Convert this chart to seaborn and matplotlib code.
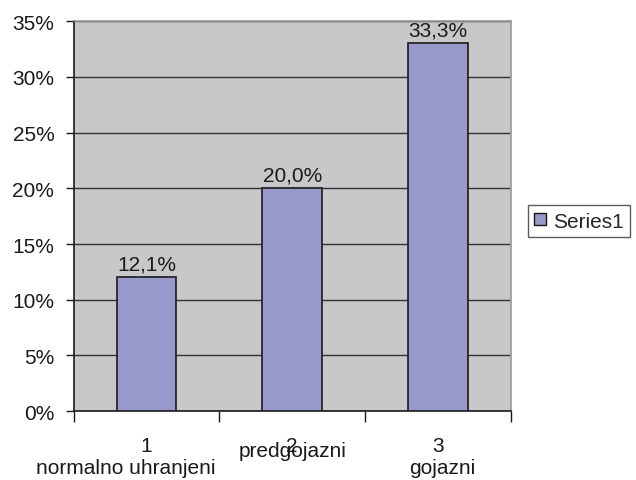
import matplotlib
matplotlib.use("Agg")
import matplotlib.pyplot as plt
import matplotlib.transforms as mtransforms
from matplotlib.patches import Patch
import seaborn as sns
import pandas as pd

# Podaci sa slike
categories = ["1", "2", "3"]
group_names = ["normalno uhranjeni", "predgojazni", "gojazni"]
values = [12, 20, 33]
value_labels = ["12,1%", "20,0%", "33,3%"]
series_name = "Series1"

bar_color = "#9999cc"
plot_bg = "#c8c8ca"
ink = "#1a1a1a"
fs = 15

sns.set_theme(style="white")
plt.rcParams["font.family"] = ["Liberation Sans", "DejaVu Sans"]

df = pd.DataFrame({"kat": categories, "vrednost": values})

fig = plt.figure(figsize=(6.36, 4.81), dpi=100)
ax = fig.add_axes([0.116, 0.143, 0.687, 0.811])
ax.set_facecolor(plot_bg)

sns.barplot(data=df, x="kat", y="vrednost", color=bar_color, width=0.41,
            edgecolor=ink, linewidth=1.2, saturation=1, ax=ax, zorder=3)

ax.set_xlim(-0.5, 2.5)
ax.set_ylim(0, 35)
ax.set_yticks(range(0, 36, 5))
ax.set_yticklabels([f"{v}%" for v in range(0, 36, 5)], fontsize=fs, color=ink)
ax.yaxis.grid(True, color="#333333", linewidth=1.0, zorder=0)
ax.set_axisbelow(True)

# granice kategorija kao crtice na x osi
ax.set_xticks([-0.5, 0.5, 1.5, 2.5])
ax.set_xticklabels([])
ax.tick_params(axis="x", direction="out", length=8, width=1, color=ink, bottom=True)
ax.tick_params(axis="y", direction="out", length=6, width=1, color=ink, left=True, pad=8)
ax.set_xlabel("")
ax.set_ylabel("")

for side in ["left", "bottom"]:
    ax.spines[side].set_color(ink)
    ax.spines[side].set_linewidth(1.2)
for side in ["top", "right"]:
    ax.spines[side].set_color("#9a9a9a")
    ax.spines[side].set_linewidth(1.2)

ax.bar_label(ax.containers[0], labels=value_labels, padding=3, fontsize=fs, color=ink)

# natpisi kategorija (drugi red je u originalu malo pomeren)
name_shift = [-0.14, 0.0, 0.03]
trans = mtransforms.blended_transform_factory(ax.transData, fig.transFigure)
for i, (c, name) in enumerate(zip(categories, group_names)):
    ax.text(i, 1 - 452 / 481, c, transform=trans, ha="center", va="baseline", fontsize=fs, color=ink)
    y_name = 1 - 457 / 481 if i == 1 else 1 - 474 / 481
    ax.text(i + name_shift[i], y_name, name, transform=trans, ha="center", va="baseline",
            fontsize=fs, color=ink)

handle = Patch(facecolor=bar_color, edgecolor=ink, linewidth=1.0)
leg = fig.legend([handle], [series_name], loc="center left", bbox_to_anchor=(0.830, 1 - 222 / 481),
                 fontsize=fs, frameon=True, fancybox=False, handlelength=0.55, handleheight=0.55,
                 handletextpad=0.35, borderpad=0.3, borderaxespad=0)
leg.get_frame().set_edgecolor("#333333")
leg.get_frame().set_linewidth(1.0)

fig.savefig("out.png", dpi=100)
